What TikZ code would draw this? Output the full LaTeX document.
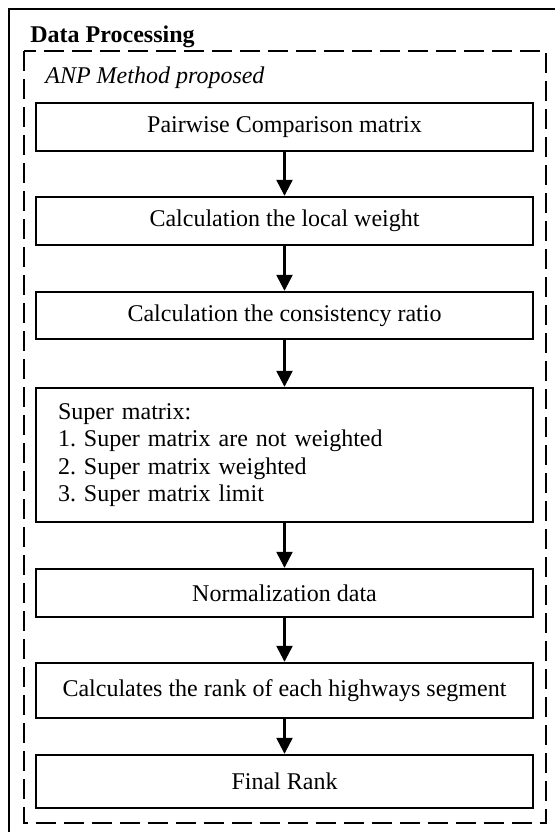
\documentclass[tikz,border=0pt]{standalone}
\usepackage{fontspec}
\setmainfont{Liberation Serif}
\usetikzlibrary{arrows.meta}
\frenchspacing
\begin{document}
\begin{tikzpicture}[x=0.5pt,y=-0.5pt,
  every node/.style={font=\fontsize{12}{13.75}\selectfont\frenchspacing},
  stepbox/.style={draw,line width=1.2pt,minimum width=248.5pt,inner sep=0pt,align=center},
  arr/.style={line width=1.2pt,-{Triangle[width=8pt,length=8pt]}},
  frame/.style={line width=1.3pt},
  dframe/.style={line width=1.2pt,dash pattern=on 10pt off 4pt}]
\useasboundingbox (0,0) rectangle (555,832);
% outer frame (cropped at right and bottom)
\draw[frame] (9,850) -- (9,9) -- (570,9);
% dashed inner frame
\draw[dframe] (24,51) rectangle (546,823);
\node[anchor=base west,inner sep=0pt,font=\fontsize{12}{13.75}\selectfont\bfseries] (title) at (30,42) {Data Processing};
\node[anchor=base west,inner sep=0pt,font=\fontsize{12}{13.75}\selectfont\itshape] (sub) at (45,83) {ANP Method proposed};
\node[stepbox,minimum height=24pt] (b1) at (284.5,127) {Pairwise Comparison matrix};
\node[stepbox,minimum height=24pt] (b2) at (284.5,221) {Calculation the local weight};
\node[stepbox,minimum height=23.5pt] (b3) at (284.5,315.5) {Calculation the consistency ratio};
\node[stepbox,minimum height=67pt,align=left,text width=226.5pt,inner xsep=11pt] (b4) at (284.5,455) {Super matrix:\\1. Super matrix are not weighted\\2. Super matrix weighted\\3. Super matrix limit};
\node[stepbox,minimum height=24pt] (b5) at (284.5,593) {Normalization data};
\node[stepbox,minimum height=27.5pt] (b6) at (284.5,690.5) {Calculates the rank of each highways segment};
\node[stepbox,minimum height=26.5pt] (b7) at (284.5,781.5) {Final Rank};
\draw[arr] (b1) -- (b2);
\draw[arr] (b2) -- (b3);
\draw[arr] (b3) -- (b4);
\draw[arr] (b4) -- (b5);
\draw[arr] (b5) -- (b6);
\draw[arr] (b6) -- (b7);
\end{tikzpicture}
\end{document}
